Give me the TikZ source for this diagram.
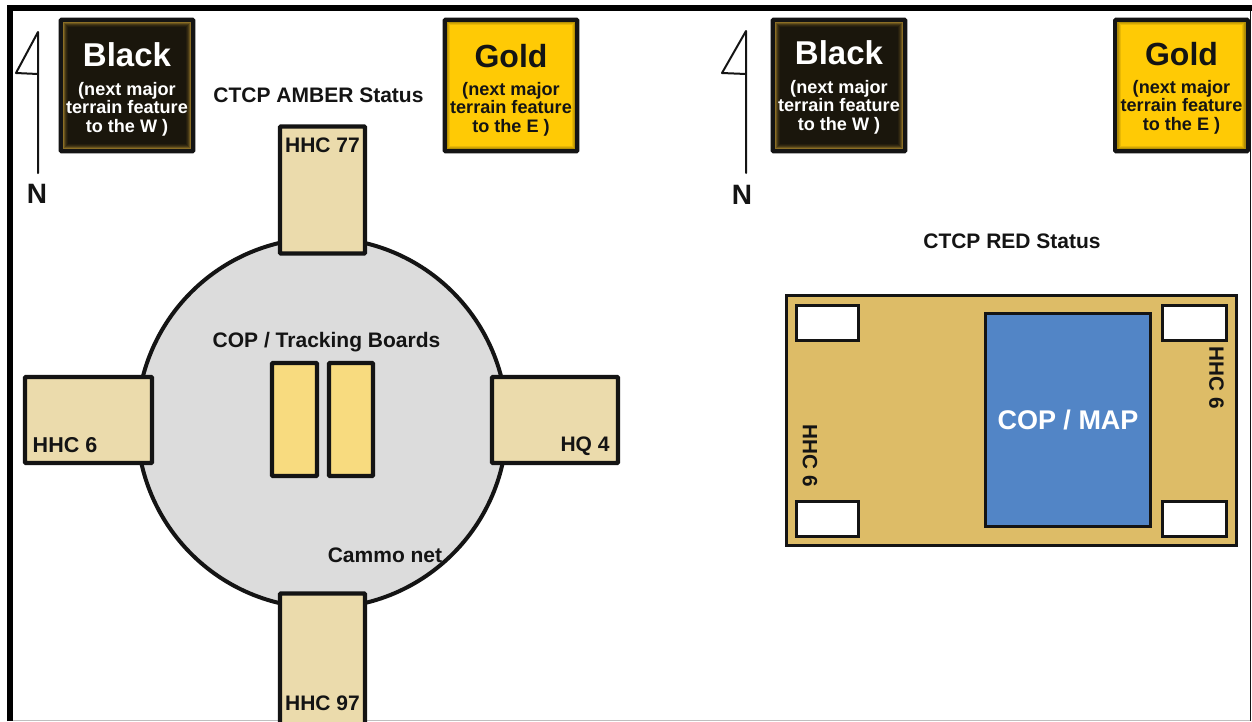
\documentclass[tikz,border=0pt]{standalone}
\usepackage{fontspec}
\setmainfont{Liberation Sans}
\usetikzlibrary{calc}
\definecolor{inkc}{HTML}{141414}
\definecolor{tanbox}{HTML}{EBDBAC}
\definecolor{netgrey}{HTML}{DCDCDC}
\definecolor{boardc}{HTML}{F8DB7F}
\definecolor{goldc}{HTML}{FFCA05}
\definecolor{blackc}{HTML}{1A160C}
\definecolor{redbg}{HTML}{DDBC67}
\definecolor{copblue}{HTML}{5285C6}
\definecolor{glowc}{HTML}{A8842C}
\newcommand{\fsz}[1]{\fontsize{#1}{#1}\selectfont\bfseries}
\tikzset{
  x=1pt,y=-1pt,
  every node/.style={inner sep=0pt,outer sep=0pt},
  lab/.style={text=inkc,font=\fsz{#1}},
  lab/.default=21,
  panel/.style={draw=inkc,line width=4.2pt,rounded corners=0.8pt,anchor=center},
  tanpanel/.style={panel,fill=tanbox},
  whitebox/.style={draw=inkc,line width=3pt,fill=white,minimum width=62pt,minimum height=35pt},
  flagline/.style={draw=inkc,line width=2pt,line join=round,line cap=round},
  signblack/.style={panel,minimum width=132.5pt,minimum height=131.5pt,fill=blackc},
  signgold/.style={panel,minimum width=132.5pt,minimum height=131.5pt,fill=goldc},
}
% name, x, text prefix, y offset of the text
\newcommand{\blacksign}[4]{%
  \node[signblack] (#1) at (#2,85.5) {};
  \foreach \i/\o in {3.2/0.8,4.2/0.55,5.2/0.32,6.2/0.18,7.2/0.08}{
    \draw[glowc,opacity=\o,line width=1pt] ($(#1.north west)+(\i,\i)$) rectangle ($(#1.south east)+(-\i,-\i)$);
  }
  \node[text=white,font=\fsz{33}] (#3t) at (#2,{55+#4}) {Black};
  \node[text=white,font=\fsz{18.1},align=center] (#3s) at (#2,{110+#4}) {\begin{tabular}{@{}c@{}}(next major\\[0.2pt]terrain feature\\[0.2pt]to the W )\end{tabular}};
}
\newcommand{\goldsign}[4]{%
  \node[signgold] (#1) at (#2,85.5) {};
  \foreach \i/\o in {3.2/0.4,4.2/0.25,5.2/0.12}{
    \draw[black!70!goldc,opacity=\o,line width=1pt] ($(#1.north west)+(\i,\i)$) rectangle ($(#1.south east)+(-\i,-\i)$);
  }
  \node[text=inkc,font=\fsz{32}] (#3t) at (#2,{54+#4}) {Gold};
  \node[text=inkc,font=\fsz{18.1},align=center] (#3s) at (#2,{108+#4}) {\begin{tabular}{@{}c@{}}(next major\\[0.2pt]terrain feature\\[0.2pt]to the E )\end{tabular}};
}
\begin{document}
\begin{tikzpicture}
\useasboundingbox (0,0) rectangle (1252,721);
\fill[white] (0,0) rectangle (1252,721);
% frame
\draw[inkc,line width=0.9pt] (1250,8) -- (1250,721);
\draw[black!25,line width=0.8pt] (10,720.3) -- (1250,720.3);
\draw[black,line width=6pt] (10,721) -- (10,7.6) -- (1252,7.6);
% flags
\coordinate (fa) at (38,32); \coordinate (fb) at (38,173); \coordinate (fc) at (16,73); \coordinate (fd) at (38,74);
\draw[flagline] (fb) -- (fa) -- (fc) -- (fd);
\coordinate (ga) at (746,31); \coordinate (gb) at (746,173); \coordinate (gc) at (722,73); \coordinate (gd) at (746,74);
\draw[flagline] (gb) -- (ga) -- (gc) -- (gd);
\node[lab=28] (n1) at (37,193.5) {N};
\node[lab=28] (n2) at (742,194.5) {N};
% signs
\blacksign{bl}{127}{blx}{0}
\goldsign{gl}{511}{glx}{2}
\blacksign{br}{839}{brx}{-2}
\goldsign{gr}{1181.5}{grx}{0}
% titles
\node[lab=21] (amber) at (318.5,95.5) {CTCP AMBER Status};
\node[lab=21] (red) at (1012,241) {CTCP RED Status};
% amber layout
\node[circle,draw=inkc,line width=4pt,fill=netgrey,minimum size=370pt] (net) at (322,423) {};
\node[tanpanel,minimum width=85pt,minimum height=127pt] (n77) at (322.5,190) {};
\node[tanpanel,minimum width=127pt,minimum height=86pt] (n6) at (88.5,420) {};
\node[tanpanel,minimum width=126pt,minimum height=86pt] (n4) at (555,420) {};
\node[tanpanel,minimum width=85pt,minimum height=135pt] (n97) at (322.5,661) {};
\node[panel,fill=boardc,minimum width=45pt,minimum height=113pt] (b1) at (294.5,419.5) {};
\node[panel,fill=boardc,minimum width=44pt,minimum height=113pt] (b2) at (351,419.5) {};
\node[lab=21] (l77) at (322.5,145) {HHC 77};
\node[lab=21.5] (l6) at (65,445) {HHC 6};
\node[lab=21] (l4) at (585,446) {HQ 4};
\node[lab=21] (l97) at (322.5,703) {HHC 97};
\node[lab=21] (cop) at (326.5,342) {COP / Tracking Boards};
\node[lab=21] (cam) at (385,555) {Cammo net};
% red layout
\node[draw=inkc,line width=3pt,fill=redbg,minimum width=450pt,minimum height=250pt] (tent) at (1011.5,420.5) {};
\node[whitebox] (w1) at (827.5,322.5) {};
\node[whitebox] (w2) at (827.5,518.5) {};
\node[whitebox,minimum width=64pt] (w3) at (1194.5,322.5) {};
\node[whitebox,minimum width=64pt] (w4) at (1194.5,518.5) {};
\node[draw=inkc,line width=3.4pt,fill=copblue,minimum width=165pt,minimum height=213pt,text=white,font=\fsz{27}] (map) at (1068,420) {COP / MAP};
\node[lab=20.7,rotate=-90] (r1) at (810,456) {HHC 6};
\node[lab=20.7,rotate=-90] (r2) at (1216.5,377.5) {HHC 6};
\end{tikzpicture}
\end{document}
